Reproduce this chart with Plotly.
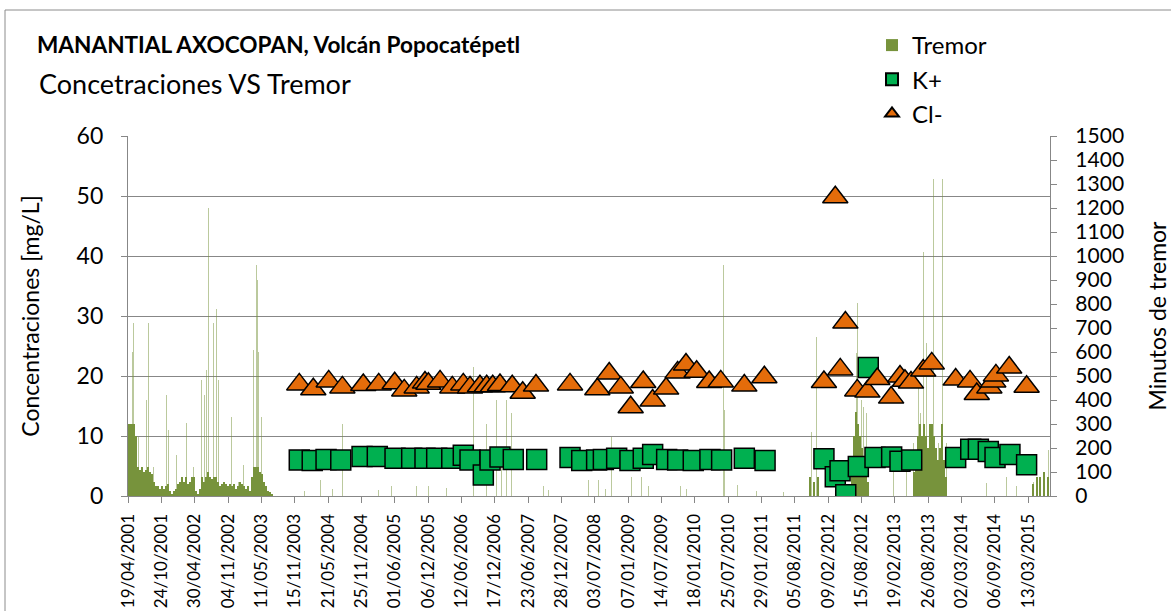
import pandas as pd
import plotly.graph_objects as go

# ---------------- data ----------------
tick_labels = ["19/04/2001", "24/10/2001", "30/04/2002", "04/11/2002", "11/05/2003",
               "15/11/2003", "21/05/2004", "25/11/2004", "01/06/2005", "06/12/2005",
               "12/06/2006", "17/12/2006", "23/06/2007", "28/12/2007", "03/07/2008",
               "07/01/2009", "14/07/2009", "18/01/2010", "25/07/2010", "29/01/2011",
               "05/08/2011", "09/02/2012", "15/08/2012", "19/02/2013", "26/08/2013",
               "02/03/2014", "06/09/2014", "13/03/2015"]
x_end = "2015-07-15"

k_dates = ["2003-12-11", "2004-02-22", "2004-05-10", "2004-08-01", "2004-11-29", "2005-02-23",
           "2005-06-03", "2005-09-05", "2005-11-19", "2006-01-24", "2006-04-19", "2006-06-23",
           "2006-07-31", "2006-10-14", "2006-11-21", "2007-01-16", "2007-04-01", "2007-08-11",
           "2008-02-15", "2008-04-21", "2008-07-14", "2008-08-21", "2008-11-04", "2009-01-18",
           "2009-04-03", "2009-05-26", "2009-08-13", "2009-10-14", "2010-01-10", "2010-04-14",
           "2010-06-19", "2010-10-25", "2011-02-19", "2012-01-17", "2012-03-21", "2012-04-17",
           "2012-05-19", "2012-07-29", "2012-09-23", "2012-10-31", "2013-02-02", "2013-03-21",
           "2013-05-26", "2014-01-29", "2014-04-24", "2014-06-06", "2014-08-01", "2014-09-08",
           "2014-12-01", "2015-03-05"]
k_vals = [6.0, 5.9, 6.1, 6.0, 6.6, 6.6,
          6.3, 6.3, 6.3, 6.3, 6.3, 6.8,
          6.0, 3.5, 6.0, 6.5, 6.1, 6.1,
          6.4, 5.9, 6.0, 6.1, 6.3, 5.9,
          6.3, 6.9, 6.1, 6.0, 5.9, 6.1,
          6.0, 6.3, 5.9, 6.2, 3.2, 4.2,
          0.2, 4.9, 21.4, 6.4, 6.5, 5.8,
          6.0, 6.4, 7.8, 7.8, 7.4, 6.4,
          6.9, 5.2]

cl_dates = ["2003-12-11", "2004-02-28", "2004-05-25", "2004-08-10", "2004-12-06", "2005-03-03",
            "2005-06-01", "2005-07-25", "2005-10-03", "2005-11-19", "2005-12-08", "2006-02-12",
            "2006-04-22", "2006-06-23", "2006-07-31", "2006-09-25", "2006-11-02", "2006-12-06",
            "2007-01-16", "2007-03-26", "2007-05-24", "2007-08-07", "2008-02-15", "2008-07-18",
            "2008-09-23", "2008-11-27", "2009-01-22", "2009-04-03", "2009-05-26", "2009-08-10",
            "2009-10-14", "2009-11-30", "2010-01-29", "2010-04-10", "2010-06-14", "2010-10-25",
            "2011-02-15", "2012-01-17", "2012-03-21", "2012-04-18", "2012-05-17", "2012-07-23",
            "2012-09-18", "2012-11-13", "2013-01-30", "2013-03-21", "2013-04-18", "2013-05-22",
            "2013-07-30", "2013-09-16", "2014-01-29", "2014-04-20", "2014-05-28", "2014-08-07",
            "2014-08-29", "2014-09-13", "2014-11-27", "2015-03-05"]
cl_vals = [18.6, 17.8, 19.1, 18.1, 18.5, 18.6,
           18.8, 17.6, 18.1, 18.9, 18.7, 19.1,
           18.1, 18.6, 18.1, 18.3, 18.3, 18.3,
           18.5, 18.3, 17.2, 18.4, 18.6, 17.8,
           20.4, 18.1, 14.8, 19.0, 15.9, 17.9,
           20.6, 21.9, 20.7, 19.0, 19.1, 18.4,
           19.8, 19.0, 49.8, 21.1, 28.9, 17.6,
           17.4, 19.5, 16.4, 19.9, 19.2, 18.9,
           20.9, 22.1, 19.4, 19.1, 17.0, 18.1,
           19.1, 20.1, 21.4, 18.2]

# tremor (minutes per day) - dense/base activity
tremor_base_dates = ["2001-04-19", "2001-04-30", "2001-05-12", "2001-05-23", "2001-06-03", "2001-06-14",
                     "2001-06-26", "2001-07-07", "2001-07-18", "2001-07-30", "2001-08-10", "2001-08-21",
                     "2001-09-01", "2001-09-13", "2001-09-24", "2001-10-05", "2001-10-16", "2001-10-28",
                     "2001-11-08", "2001-11-19", "2001-12-01", "2001-12-12", "2001-12-23", "2002-01-03",
                     "2002-01-15", "2002-01-26", "2002-02-06", "2002-02-18", "2002-03-01", "2002-03-12",
                     "2002-03-23", "2002-04-04", "2002-04-15", "2002-04-26", "2002-05-07", "2002-05-18",
                     "2002-05-30", "2002-06-10", "2002-06-21", "2002-07-02", "2002-07-14", "2002-07-25",
                     "2002-08-05", "2002-08-17", "2002-08-28", "2002-09-08", "2002-09-20", "2002-10-01",
                     "2002-10-12", "2002-10-24", "2002-11-04", "2002-11-15", "2002-11-27", "2002-12-08",
                     "2002-12-19", "2002-12-30", "2003-01-11", "2003-01-22", "2003-02-02", "2003-02-14",
                     "2003-02-25", "2003-03-08", "2003-03-19", "2003-03-31", "2003-04-11", "2003-04-22",
                     "2003-05-03", "2003-05-15", "2003-05-26", "2003-06-06", "2003-06-18", "2003-06-29",
                     "2003-07-10",
                     "2011-10-30", "2011-11-20", "2011-12-12",
                     "2012-06-23", "2012-07-05", "2012-07-16", "2012-07-27", "2012-08-07", "2012-08-19",
                     "2012-08-30", "2012-09-10", "2012-09-21",
                     "2013-06-08", "2013-06-19", "2013-06-30", "2013-07-12", "2013-07-23", "2013-08-03",
                     "2013-08-15", "2013-08-26", "2013-09-06", "2013-09-17", "2013-09-29", "2013-10-10",
                     "2013-10-21", "2013-11-01", "2013-11-13", "2013-11-24", "2013-12-05",
                     "2015-04-12", "2015-05-01", "2015-05-20", "2015-06-11", "2015-07-04"]
tremor_base_min = [300, 300, 300, 300, 250, 120,
                   110, 120, 100, 110, 120, 100,
                   90, 60, 40, 40, 30, 40,
                   30, 40, 50, 20, 10, 20,
                   30, 50, 60, 80, 60, 80,
                   50, 60, 80, 80, 20, 10,
                   30, 80, 60, 80, 100, 80,
                   70, 80, 80, 60, 40, 50,
                   60, 50, 40, 50, 40, 50,
                   30, 40, 60, 50, 40, 30,
                   40, 20, 80, 120, 120, 120,
                   100, 90, 60, 40, 20, 15,
                   10,
                   80, 60, 80,
                   150, 250, 350, 300, 250, 200,
                   150, 100, 60,
                   100, 150, 250, 300, 250, 300,
                   250, 200, 300, 300, 250, 200,
                   150, 200, 300, 150, 80,
                   50, 80, 80, 100, 80]

# tremor (minutes per day) - isolated peaks
tremor_peak_dates = ["2001-04-30", "2001-05-06", "2001-05-13", "2001-05-20", "2001-05-28", "2001-06-16",
                     "2001-07-05", "2001-08-02", "2001-08-11", "2001-08-21", "2001-09-09", "2001-11-23",
                     "2001-12-02", "2002-01-18", "2002-02-06", "2002-03-06", "2002-03-16", "2002-04-04",
                     "2002-04-22", "2002-06-08", "2002-06-23", "2002-07-07", "2002-07-15", "2002-07-19",
                     "2002-07-31", "2002-08-13", "2002-08-22", "2002-09-01", "2002-09-10", "2002-10-18",
                     "2002-11-15", "2002-11-24", "2003-01-01", "2003-01-29", "2003-03-27", "2003-04-05",
                     "2003-04-15", "2003-04-18", "2003-04-24", "2003-05-03", "2003-05-13", "2003-05-31",
                     "2004-01-10", "2004-04-10", "2004-06-15", "2004-08-12", "2005-01-13", "2005-02-10",
                     "2005-03-01", "2005-04-08", "2005-05-15", "2005-07-29", "2005-09-01", "2005-10-03",
                     "2005-12-08", "2006-01-15", "2006-03-21", "2006-05-07", "2006-08-19", "2006-09-20",
                     "2006-11-02", "2006-12-02", "2006-12-19", "2006-12-28", "2007-01-26", "2007-02-19",
                     "2007-02-23", "2007-03-14", "2007-03-23", "2007-05-09", "2007-07-04", "2007-08-30",
                     "2007-09-20", "2007-10-16", "2007-11-23", "2008-01-07", "2008-02-15", "2008-03-14",
                     "2008-05-28", "2008-07-23", "2008-09-01", "2008-10-07", "2008-10-25", "2009-01-28",
                     "2009-03-25", "2009-05-01", "2009-06-08", "2009-10-29", "2009-12-01", "2010-03-01",
                     "2010-06-28", "2010-07-06", "2010-09-18", "2011-01-01", "2011-06-01",
                     "2011-10-30", "2011-11-09", "2011-12-07", "2011-12-26", "2012-03-19", "2012-05-15",
                     "2012-07-10", "2012-07-20", "2012-07-23", "2012-08-07", "2012-08-17", "2012-08-26",
                     "2012-09-14", "2012-10-03", "2012-10-31", "2012-12-26", "2013-02-11", "2013-04-28",
                     "2013-06-04", "2013-07-02", "2013-07-16", "2013-07-30", "2013-08-09", "2013-08-18",
                     "2013-09-06", "2013-09-25", "2013-09-29", "2013-10-04", "2013-10-23", "2013-11-17",
                     "2013-11-19", "2013-11-24", "2013-12-09", "2014-01-25", "2014-03-23", "2014-05-18",
                     "2014-07-23", "2014-11-13", "2015-01-08", "2015-03-24", "2015-04-12", "2015-05-20",
                     "2015-06-17", "2015-07-06"]
tremor_peak_min = [358, 483, 601, 719, 414, 247,
                   122, 400, 719, 219, 122, 421,
                   275, 171, 358, 240, 303, 185,
                   122, 483, 421, 525, 1200, 719,
                   330, 719, 844, 781, 483, 330,
                   261, 330, 60, 130, 608, 490,
                   962, 900, 601, 486, 330, 122,
                   20, 66, 30, 302, 52, 80,
                   25, 66, 40, 52, 20, 40,
                   40, 30, 35, 30, 539, 60,
                   300, 200, 719, 400, 164, 1199,
                   400, 1500, 345, 178, 233, 40,
                   40, 25, 122, 100, 70, 90,
                   66, 66, 30, 247, 803, 80,
                   80, 40, 52, 40, 30, 25,
                   962, 358, 45, 20, 15,
                   428, 268, 664, 358, 25, 30,
                   664, 594, 803, 428, 400, 372,
                   344, 60, 40, 80, 120, 150,
                   220, 483, 344, 1018, 500, 636,
                   420, 1319, 1025, 775, 220, 1319,
                   1233, 664, 220, 40, 40, 30,
                   53, 80, 40, 94, 60, 150,
                   219, 191]

# ---------------- figure ----------------
DAY = 86400000
FONT = "Lato, 'Open Sans', sans-serif"
GRID = "#878787"
tick_dates = [pd.to_datetime(t, format="%d/%m/%Y") for t in tick_labels]

fig = go.Figure()
fig.add_bar(x=tremor_base_dates, y=tremor_base_min, width=6 * DAY, name="Tremor",
            marker=dict(color="#77933C", line=dict(width=0)), yaxis="y",
            legendgroup="tremor")
fig.add_bar(x=tremor_peak_dates, y=tremor_peak_min, width=4 * DAY, name="Tremor",
            marker=dict(color="rgba(119,147,60,0.5)", line=dict(width=0)), yaxis="y",
            legendgroup="tremor", showlegend=False)
fig.add_scatter(x=k_dates, y=k_vals, mode="markers", name="K+", yaxis="y2", legendgroup="k",
                marker=dict(symbol="square", size=20, color="#00B050",
                            line=dict(color="black", width=1.5)))
fig.add_scatter(x=cl_dates, y=cl_vals, mode="markers", name="Cl-", yaxis="y2", legendgroup="cl",
                marker=dict(symbol="triangle-up", size=22, color="#E46C0A",
                            line=dict(color="black", width=1.5)))

fig.update_layout(
    width=1171, height=611,
    margin=dict(l=128, r=121, t=136, b=115, autoexpand=False),
    paper_bgcolor="white", plot_bgcolor="white",
    font=dict(family=FONT, color="black", size=18),
    barmode="overlay", bargap=0,
    title=dict(text="<b>MANANTIAL AXOCOPAN, Volcán Popocatépetl</b>",
               x=37 / 1171, xanchor="left", xref="container",
               y=1 - 45 / 611, yanchor="middle", yref="container",
               font=dict(family=FONT, size=22.6, color="black")),
    annotations=[dict(text="Concetraciones VS Tremor", xref="paper", yref="paper",
                      x=(37 - 128) / 922, y=(496 - 83) / 360, xanchor="left", yanchor="middle",
                      showarrow=False, font=dict(family=FONT, size=27, color="black"))],
    legend=dict(x=(872 - 128) / 922, y=(496 - 23) / 360, xanchor="left", yanchor="top",
                traceorder="grouped", tracegroupgap=0, itemsizing="constant",
                bgcolor="rgba(0,0,0,0)", font=dict(family=FONT, size=24, color="black")),
    shapes=[dict(type="rect", xref="paper", yref="paper",
                 x0=(5 - 128) / 922, x1=1.3, y0=-0.5, y1=(496 - 10) / 360,
                 line=dict(color="#8c8c8c", width=1), fillcolor="rgba(0,0,0,0)", layer="below")],
    xaxis=dict(type="date", range=[tick_dates[0], x_end], tickmode="array",
               tickvals=tick_dates, ticktext=tick_labels, tickangle=-90,
               ticks="outside", ticklen=6, tickcolor=GRID, tickwidth=1.3,
               showline=True, linecolor=GRID, linewidth=1.3, showgrid=False, zeroline=False,
               ticklabelstandoff=4,
               tickfont=dict(family=FONT, size=17, color="black"), automargin=False),
    yaxis=dict(side="right", range=[0, 1500], tickmode="linear", tick0=0, dtick=100,
               ticks="outside", ticklen=6, tickcolor=GRID, tickwidth=1.3,
               showline=True, linecolor=GRID, linewidth=1.3, showgrid=False, zeroline=False,
               ticklabelstandoff=14,
               tickfont=dict(family=FONT, size=21, color="black"),
               title=dict(text="Minutos de tremor", standoff=32,
                          font=dict(family=FONT, size=23, color="black")),
               automargin=False),
    yaxis2=dict(side="left", overlaying="y", range=[0, 60], tickmode="linear", tick0=0, dtick=10,
                ticks="outside", ticklen=6, tickcolor=GRID, tickwidth=1.3,
                showline=True, linecolor=GRID, linewidth=1.3,
                showgrid=True, gridcolor=GRID, gridwidth=1.3, zeroline=False,
                ticklabelstandoff=13,
                tickfont=dict(family=FONT, size=23, color="black"),
                title=dict(text="Concentraciones [mg/L]", standoff=30,
                           font=dict(family=FONT, size=23, color="black")),
                automargin=False),
)

fig.write_html("out.html", config={"displayModeBar": False},
               post_script="document.body.style.margin='0';")
